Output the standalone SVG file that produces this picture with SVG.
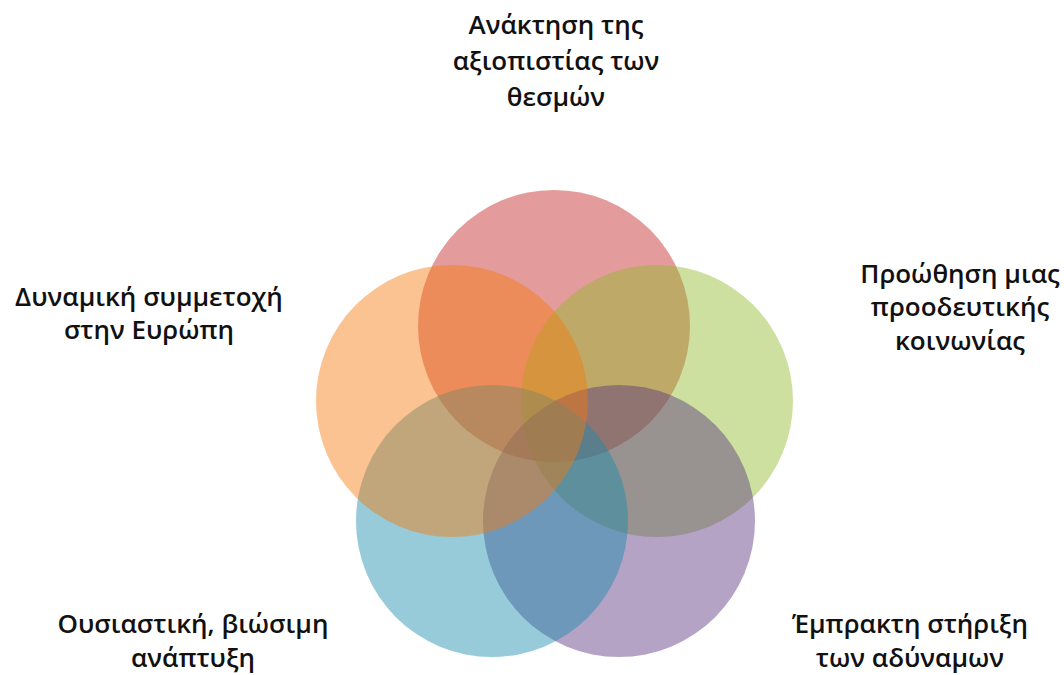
<svg xmlns="http://www.w3.org/2000/svg" width="1064" height="675" viewBox="0 0 1064 675">
<style>
.c{fill-opacity:0.45;stroke:none}
.t{font-family:"Open Sans","Noto Sans","DejaVu Sans",sans-serif;font-size:26px;font-weight:600;fill:#111;text-anchor:middle}
</style>
<rect width="1064" height="675" fill="#fff"/>
<g id="circle-top"><circle class="c" cx="554" cy="326" r="136" fill="#c32121"/></g>
<g id="circle-right"><circle class="c" cx="657" cy="401" r="136" fill="#90ba2c"/></g>
<g id="circle-bottom-right"><circle class="c" cx="619" cy="521" r="136" fill="#58347f"/></g>
<g id="circle-bottom-left"><circle class="c" cx="492" cy="521" r="136" fill="#188cab"/></g>
<g id="circle-left"><circle class="c" cx="452" cy="401" r="136" fill="#f47a0b"/></g>
<g id="connectors"></g>
<g id="label-top"><text class="t" x="556" y="34">Ανάκτηση της</text><text class="t" x="556" y="70">αξιοπιστίας των</text><text class="t" x="556" y="106">θεσμών</text></g>
<g id="label-left"><text class="t" x="149" y="306">Δυναμική συμμετοχή</text><text class="t" x="149" y="339">στην Ευρώπη</text></g>
<g id="label-right"><text class="t" x="960" y="283">Προώθηση μιας</text><text class="t" x="960" y="316">προοδευτικής</text><text class="t" x="960" y="350">κοινωνίας</text></g>
<g id="label-bottom-left"><text class="t" x="193" y="633">Ουσιαστική, βιώσιμη</text><text class="t" x="193" y="667">ανάπτυξη</text></g>
<g id="label-bottom-right"><text class="t" x="910" y="633">Έμπρακτη στήριξη</text><text class="t" x="910" y="667">των αδύναμων</text></g>
</svg>
